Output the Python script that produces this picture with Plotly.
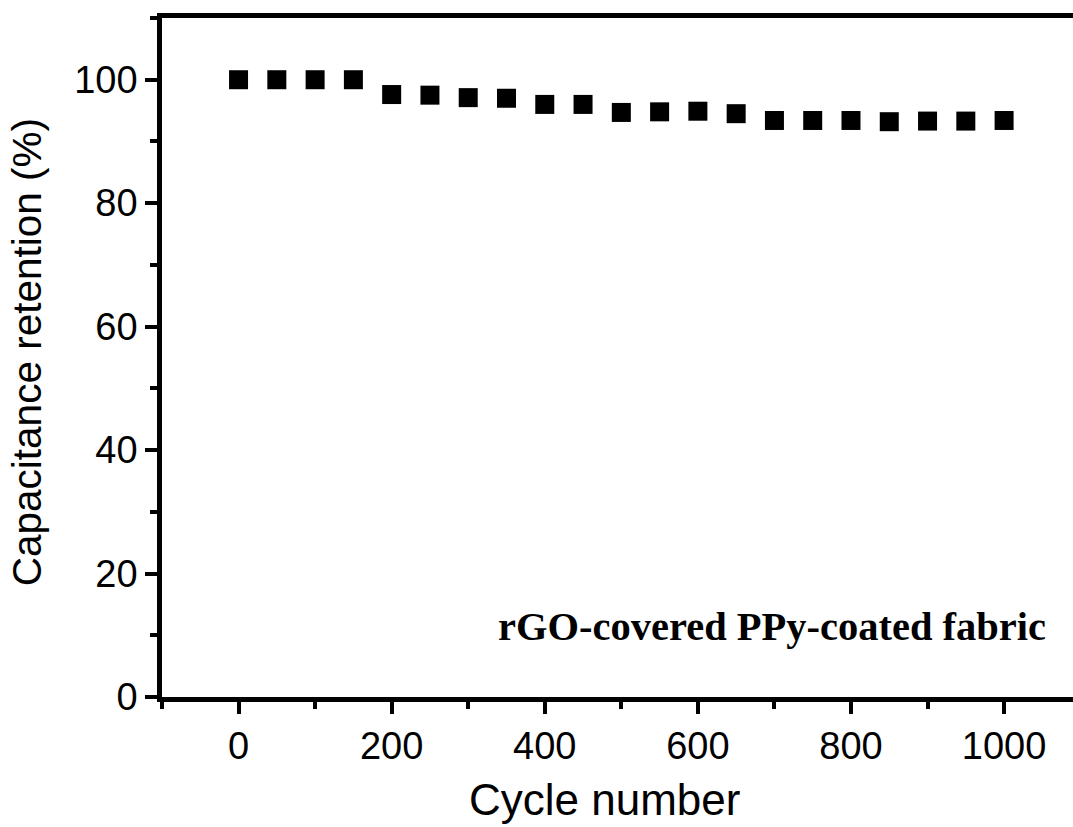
import plotly.graph_objects as go

cycles = [0, 50, 100, 150, 200, 250, 300, 350, 400, 450, 500,
          550, 600, 650, 700, 750, 800, 850, 900, 950, 1000]
retention = [100.0, 100.0, 100.0, 100.0, 97.6, 97.5, 97.1, 97.0, 96.0, 96.0, 94.7,
             94.8, 94.9, 94.5, 93.4, 93.4, 93.4, 93.2, 93.3, 93.3, 93.4]
x_title = "Cycle number"
y_title = "Capacitance retention (%)"
label = "rGO-covered PPy-coated fabric"

sans = "Liberation Sans, Arial, sans-serif"
serif = "Liberation Serif, Times New Roman, serif"

fig = go.Figure()
fig.add_trace(go.Scatter(
    x=cycles, y=retention, mode="markers",
    marker=dict(symbol="square", size=19, color="black", line=dict(width=0)),
    showlegend=False,
))

axis_common = dict(
    showline=True, linecolor="black", linewidth=4.5,
    ticks="outside", tickcolor="black", tickwidth=4, ticklen=12,
    showgrid=False, zeroline=False,
    tickfont=dict(family=sans, size=38, color="black"),
)

fig.update_xaxes(
    range=[-100, 1090], tick0=0, dtick=200, mirror=True,
    minor=dict(dtick=100, tick0=0, ticks="outside", ticklen=7, tickwidth=4, tickcolor="black"),
    **axis_common,
)
fig.update_yaxes(
    range=[0, 110], tick0=0, dtick=20, mirror=False,
    minor=dict(dtick=10, tick0=0, ticks="outside", ticklen=7, tickwidth=4, tickcolor="black"),
    **axis_common,
)

fig.add_annotation(
    text=x_title, xref="paper", yref="paper", x=0.486, y=-0.151,
    xanchor="center", yanchor="middle", showarrow=False,
    font=dict(family=sans, size=44, color="black"),
)
fig.add_annotation(
    text=y_title, xref="paper", yref="paper", x=-0.148, y=0.508,
    xanchor="center", yanchor="middle", textangle=-90, showarrow=False,
    font=dict(family=sans, size=40.5, color="black"),
)
fig.add_annotation(
    text="<b>" + label + "</b>", xref="x", yref="y", x=1057, y=11.5,
    xanchor="right", yanchor="middle", showarrow=False,
    font=dict(family=serif, size=40.5, color="black"),
)

fig.update_layout(
    width=1073, height=827,
    margin=dict(l=162, r=0, t=18, b=130),
    paper_bgcolor="white", plot_bgcolor="white",
)

fig.write_html("out.html")
